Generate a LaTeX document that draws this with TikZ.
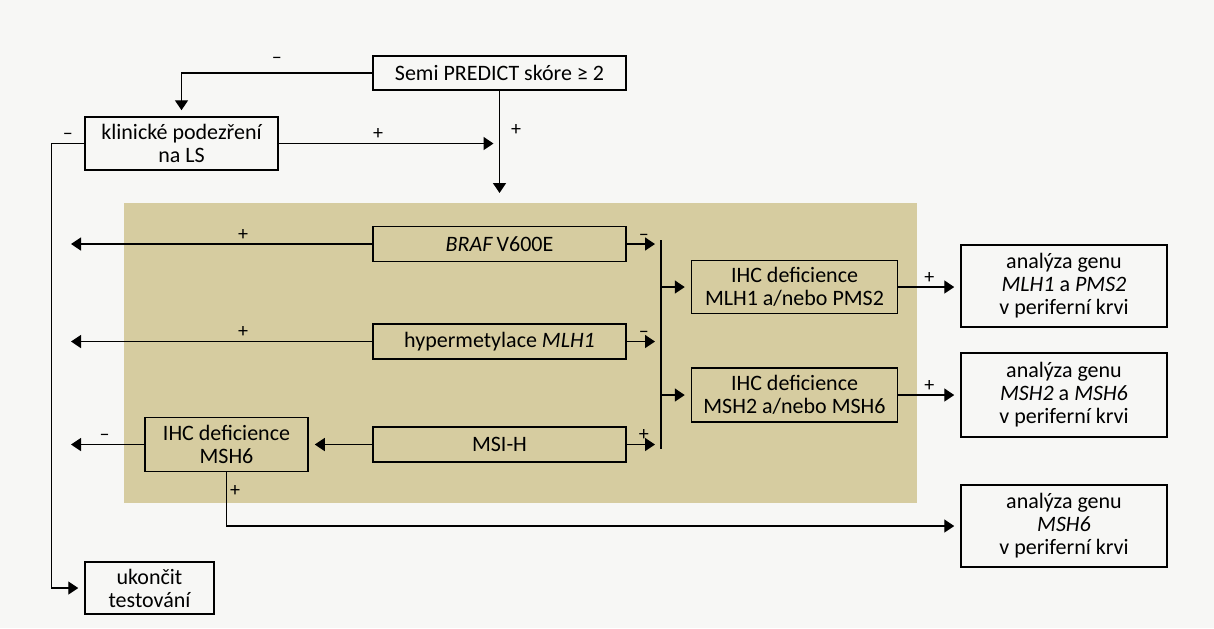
\documentclass[tikz,border=0pt]{standalone}
\usepackage{fontspec}
\setmainfont{Carlito}
\usepackage{tikz}
\usetikzlibrary{arrows.meta, positioning, calc}
\definecolor{panel}{RGB}{214,204,160}
\definecolor{paper}{RGB}{247,247,245}
\tikzstyle{box} = [rectangle, draw=black, line width=0.75pt, align=center, inner sep=1pt, font=\fontsize{11}{11.5}\selectfont]
\tikzstyle{arrow} = [line width=0.7pt, -{Triangle[length=5pt, width=6.5pt]}, shorten >=3pt]
\tikzstyle{line} = [line width=0.7pt]
\tikzstyle{sign} = [font=\fontsize{10}{10}\selectfont, inner sep=1.5pt]

\begin{document}
\begin{tikzpicture}[x=0.5pt, y=-0.5pt]
  \fill[paper] (0,0) rectangle (1214,628);
  \useasboundingbox (0,0) rectangle (1214,628);
  \fill[panel] (124,203) rectangle (917,503);

  \node[box, minimum width=126.5pt, minimum height=17pt] (semi) at (499.5,73) {Semi PREDICT skóre ≥ 2};
  \node[box, minimum width=96.5pt, minimum height=26.5pt] (klin) at (181.5,143.5) {klinické podezření\\na LS};
  \node[box, minimum width=64.5pt, minimum height=26pt] (stop) at (149.5,588) {ukončit\\testování};
  \node[box, minimum width=126.5pt, minimum height=17.5pt] (braf) at (499.5,244) {\textit{BRAF}\,V600E};
  \node[box, minimum width=126.5pt, minimum height=17.5pt] (hyper) at (499.5,341.5) {hypermetylace \textit{MLH1}};
  \node[box, minimum width=126.5pt, minimum height=17.5pt] (msi) at (499.5,444.5) {MSI-H};
  \node[box, minimum width=103pt, minimum height=26.5pt] (ihcA) at (794.5,287) {IHC deficience\\MLH1 a/nebo PMS2};
  \node[box, minimum width=103pt, minimum height=27pt] (ihcB) at (794.5,395) {IHC deficience\\MSH2 a/nebo MSH6};
  \node[box, minimum width=81.5pt, minimum height=27pt] (ihcC) at (226.5,444.5) {IHC deficience\\MSH6};
  \node[box, minimum width=103pt, minimum height=41pt] (genA) at (1064,286) {analýza genu\\\textit{MLH1} a \textit{PMS2}\\v periferní krvi};
  \node[box, minimum width=103pt, minimum height=42pt] (genB) at (1064,395) {analýza genu\\\textit{MSH2} a \textit{MSH6}\\v periferní krvi};
  \node[box, minimum width=103pt, minimum height=41pt] (genC) at (1064,526) {analýza genu\\\textit{MSH6}\\v periferní krvi};

  \coordinate (entry) at (499.5,199);
  \coordinate (exitA) at (65,244);
  \coordinate (exitB) at (65,341.5);
  \coordinate (exitC) at (65,444.5);
  \coordinate (barTop) at (661,240);
  \coordinate (barBot) at (661,449);

  \draw[arrow] (semi.west) -| node[sign, above=3pt, pos=0.25]{–} (klin.north);
  \draw[arrow] (semi.south) -- (entry);
  \draw[arrow] (klin.east) -- node[sign, above, pos=0.45]{+} (klin.east -| semi.south) node[sign, above right=2pt and 4pt]{+};
  \draw[arrow] (klin.west) -- node[sign, above]{–} ++(-33,0) |- (stop.west);

  \draw[arrow] (braf.west) -- node[sign, above, pos=0.42]{+} (exitA);
  \draw[arrow] (hyper.west) -- node[sign, above, pos=0.42]{+} (exitB);
  \draw[arrow] (msi.west) -- (ihcC.east);
  \draw[arrow] (ihcC.west) -- node[sign, above]{–} (exitC);
  \draw[arrow] (ihcC.south) |- node[sign, right, pos=0.17]{+} (genC.west);

  \draw[arrow] (braf.east) -- node[sign, above]{–} (braf.east -| barTop);
  \draw[arrow] (hyper.east) -- node[sign, above]{–} (hyper.east -| barTop);
  \draw[arrow] (msi.east) -- node[sign, above]{+} (msi.east -| barTop);
  \draw[line] (barTop) -- (barBot);
  \draw[arrow] (ihcA.west -| barTop) -- (ihcA.west);
  \draw[arrow] (ihcB.west -| barTop) -- (ihcB.west);

  \draw[arrow] (ihcA.east) -- node[sign, above]{+} (ihcA.east -| genA.west);
  \draw[arrow] (ihcB.east) -- node[sign, above]{+} (ihcB.east -| genB.west);
\end{tikzpicture}
\end{document}
